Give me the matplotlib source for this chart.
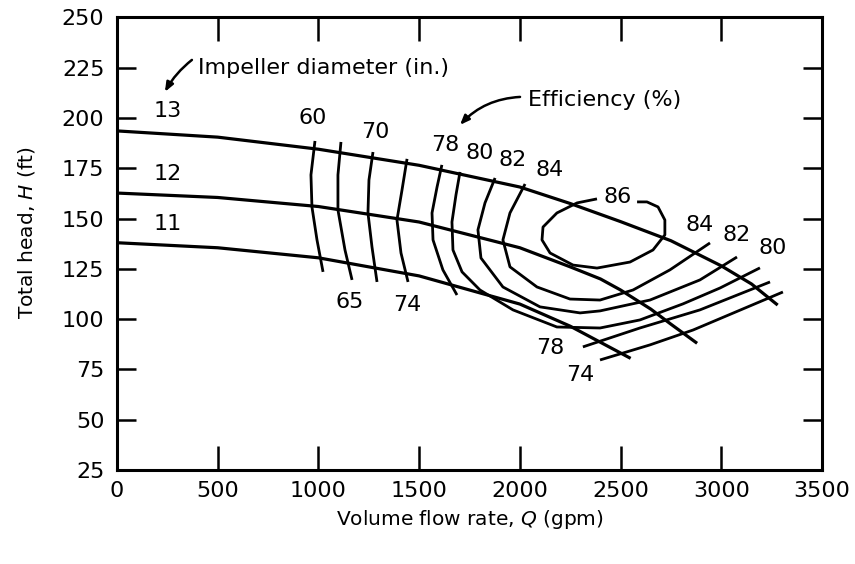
import matplotlib
matplotlib.use("Agg")
import matplotlib.pyplot as plt

plt.rcParams['font.family'] = ['DejaVu Sans']
plt.rcParams['mathtext.fontset'] = 'dejavusans'

# ---- head curves, one per impeller diameter (in.) ----
Q_13 = [0, 500, 1000, 1500, 2000, 2250, 2500, 2750, 3000, 3150, 3280]
H_13 = [193.6, 190.5, 184.5, 176.5, 165.7, 157.5, 148.5, 139.0, 126.5, 117.5, 107.0]
Q_12 = [0, 500, 1000, 1500, 2000, 2250, 2400, 2500, 2650, 2750, 2880]
H_12 = [162.7, 160.5, 156.0, 148.3, 135.5, 126.0, 120.0, 114.5, 105.0, 97.5, 88.0]
Q_11 = [0, 500, 1000, 1500, 2000, 2250, 2550]
H_11 = [138.0, 135.5, 130.5, 121.5, 107.5, 96.5, 80.5]
DIAMETERS = ['13', '12', '11']

# ---- efficiency contours (%) ----
E60_Q = [983, 963, 968, 993, 1023]
E60_H = [188.6, 171.7, 155.8, 139.4, 123.5]
E65_Q = [1112, 1097, 1097, 1132, 1167]
E65_H = [188.1, 171.7, 154.3, 134.4, 119.5]
E70_Q = [1271, 1251, 1246, 1266, 1291]
E70_H = [183.1, 169.2, 152.8, 135.9, 118.5]
E74_Q = [1440, 1415, 1390, 1410, 1445]
E74_H = [179.7, 164.2, 149.3, 132.9, 118.5]
E78_Q = [1613, 1589, 1564, 1569, 1618, 1688]
E78_H = [176.7, 165.7, 152.8, 139.4, 124.5, 112.0]
E80_Q = [1703, 1683, 1663, 1668, 1713, 1802, 1966, 2184, 2398, 2596, 2810, 2994, 3192]
E80_H = [173.2, 161.8, 148.3, 134.4, 123.5, 114.5, 104.6, 96.1, 95.6, 99.6, 107.6, 115.5, 125.5]
E82_Q = [1877, 1827, 1792, 1807, 1916, 2100, 2299, 2398, 2646, 2894, 3078]
E82_H = [170.2, 157.8, 144.4, 130.4, 116.0, 106.1, 103.1, 104.1, 109.5, 119.5, 130.9]
E84_Q = [2026, 1951, 1916, 1951, 2085, 2249, 2398, 2562, 2745, 2944]
E84_H = [167.2, 152.8, 139.4, 126.0, 116.0, 110.0, 109.5, 114.5, 124.5, 137.9]
E86_Q = [2582, 2631, 2686, 2720, 2720, 2661, 2547, 2383, 2264, 2150, 2110, 2115, 2184, 2284, 2383]
E86_H = [158.3, 158.3, 155.8, 149.3, 141.9, 134.4, 128.4, 125.4, 126.9, 132.9, 139.4, 145.8, 152.8, 157.8, 159.8]
# right-hand branches of the 78 and 74 contours
E78R_Q = [2313, 2596, 2894, 3242]
E78R_H = [86.2, 95.6, 104.6, 118.5]
E74R_Q = [2398, 2646, 2860, 3306]
E74R_H = [79.7, 87.2, 94.6, 113.5]


def main():
    fig = plt.figure(figsize=(8.55, 5.64), dpi=100)
    ax = fig.add_axes([0.1368, 0.1667, 0.8246, 0.8023])

    for q, h in [(Q_13, H_13), (Q_12, H_12), (Q_11, H_11)]:
        ax.plot(q, h, color='black', lw=2.3, solid_capstyle='butt')

    contours = [(E60_Q, E60_H), (E65_Q, E65_H), (E70_Q, E70_H), (E74_Q, E74_H),
                (E78_Q, E78_H), (E80_Q, E80_H), (E82_Q, E82_H), (E84_Q, E84_H),
                (E86_Q, E86_H), (E78R_Q, E78R_H), (E74R_Q, E74R_H)]
    for q, h in contours:
        ax.plot(q, h, color='black', lw=2.0, solid_capstyle='butt')

    # diameter labels
    for lab, y in zip(DIAMETERS, [203.5, 172.2, 147.3]):
        ax.text(253, y, lab, fontsize=16, ha='center', va='center')

    # efficiency labels
    fs = 16
    labels = [('60', 973, 200), ('70', 1281, 193), ('78', 1628, 186.6),
              ('80', 1802, 182.6), ('82', 1966, 179.2), ('84', 2150, 174.2),
              ('86', 2487, 160.8), ('84', 2894, 146.8), ('82', 3078, 141.9),
              ('80', 3257, 135.4), ('65', 1157, 108.5), ('74', 1440, 107.0),
              ('78', 2150, 85.7), ('74', 2299, 72.2)]
    for lab, x, y in labels:
        ax.text(x, y, lab, fontsize=fs, ha='center', va='center')

    # callouts
    arrow = dict(arrowstyle='-|>,head_length=0.55,head_width=0.22',
                 color='black', lw=1.8, shrinkA=0, shrinkB=0)
    ax.text(400, 225, 'Impeller diameter (in.)', fontsize=16, va='center', ha='left')
    ax.annotate('', xy=(238, 213), xytext=(372, 228.9),
                arrowprops=dict(arrow, connectionstyle='arc3,rad=0.1'))
    ax.text(2040, 209, 'Efficiency (%)', fontsize=16, va='center', ha='left')
    ax.annotate('', xy=(1703, 196.6), xytext=(2001, 210.5),
                arrowprops=dict(arrow, connectionstyle='arc3,rad=0.2'))

    ax.set_xlim(0, 3500)
    ax.set_ylim(25, 250)
    ax.set_xticks(range(0, 3501, 500))
    ax.set_yticks(range(25, 251, 25))
    ax.tick_params(axis='x', direction='in', length=17, width=1.8, top=True,
                   labelsize=16, pad=8)
    ax.tick_params(axis='y', direction='in', length=14, width=1.8, right=True,
                   labelsize=16, pad=9)
    for s in ax.spines.values():
        s.set_linewidth(2.2)

    ax.set_xlabel('Volume flow rate, $Q$ (gpm)', fontsize=14.5, labelpad=5)
    ax.set_ylabel('Total head, $H$ (ft)', fontsize=14.5)
    ax.yaxis.set_label_coords(-0.113, 0.524)

    fig.savefig('out.png', dpi=100)
    plt.close(fig)


if __name__ == '__main__':
    main()
